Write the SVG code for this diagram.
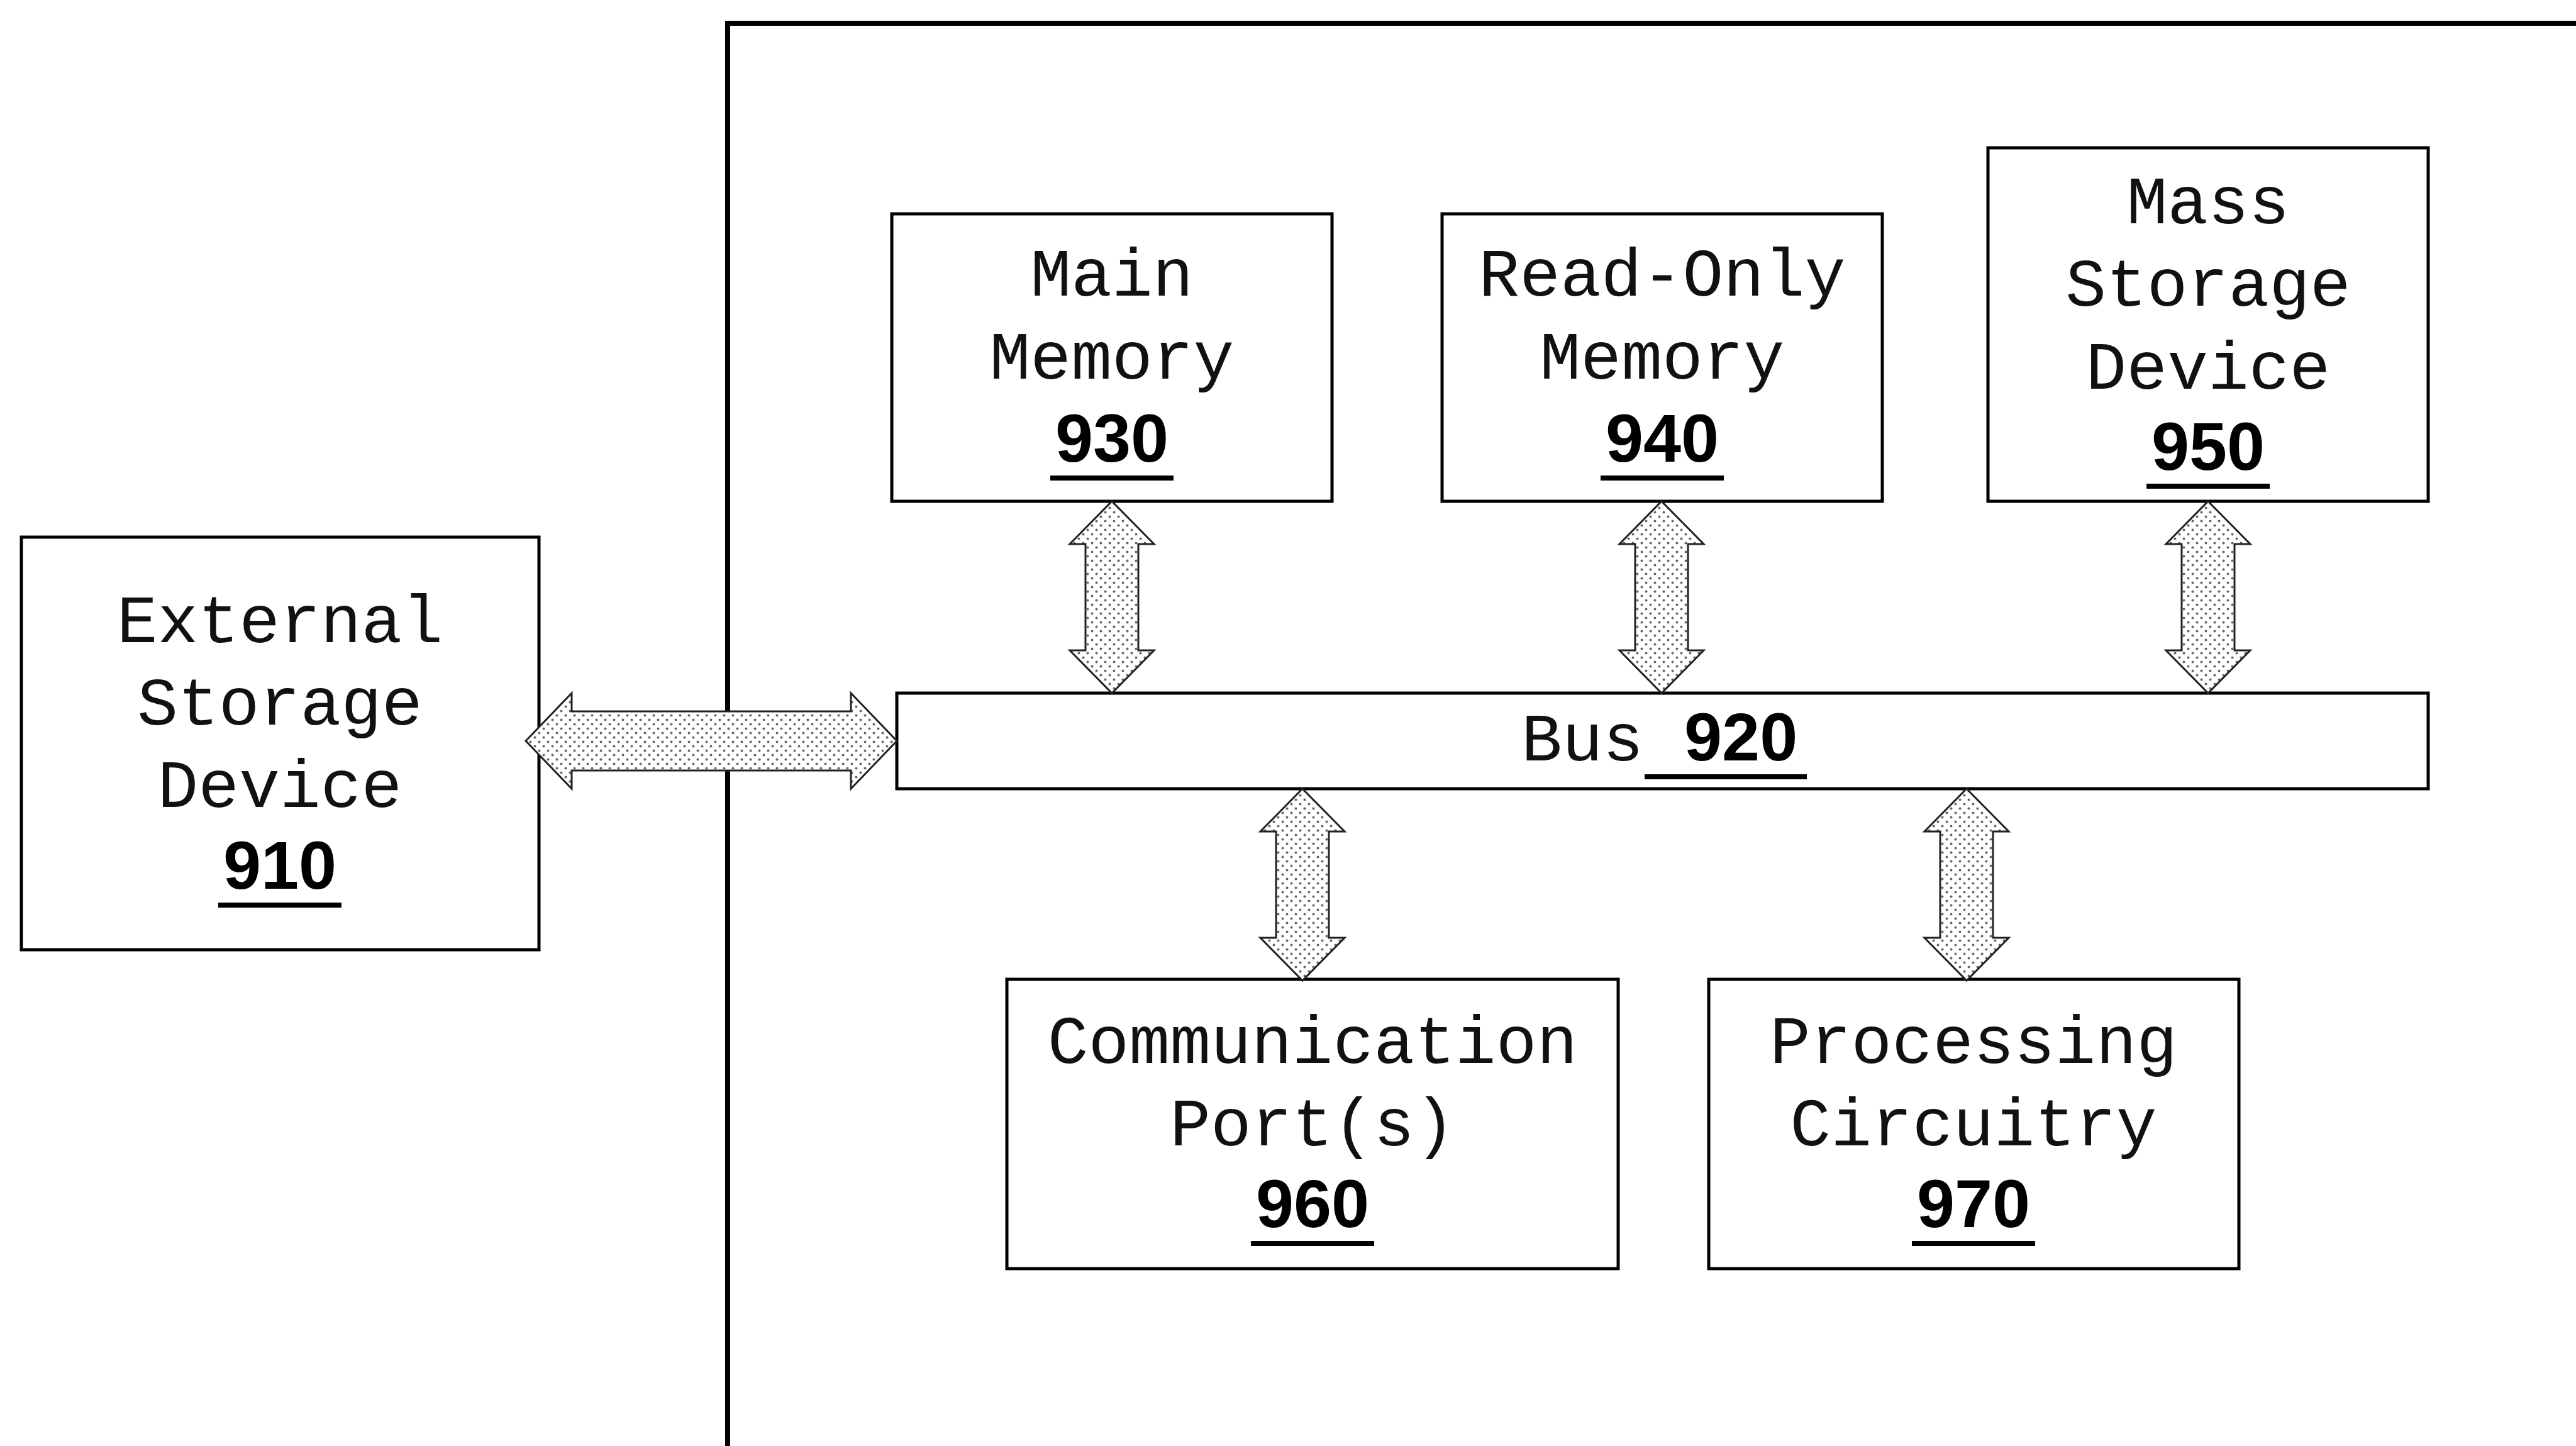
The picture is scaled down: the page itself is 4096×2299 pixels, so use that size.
<svg xmlns="http://www.w3.org/2000/svg" xmlns:xlink="http://www.w3.org/1999/xlink" width="4096" height="2299" viewBox="0 0 4096 2299">
<style>
.box{fill:#fff;stroke:#000;stroke-width:5}
.frame{fill:none;stroke:#000;stroke-width:8}
.lbl{font-family:"Liberation Mono","Courier New",monospace;font-size:108px;fill:#111;text-anchor:middle}
.num{font-family:"Liberation Sans",Arial,sans-serif;font-weight:bold;font-size:108px;fill:#000;text-anchor:middle}
.ul{stroke:#000;stroke-width:8}
.arr{fill:url(#dots);stroke:#222;stroke-width:3;stroke-linejoin:miter}
</style>
<defs>
<pattern id="dots" width="14" height="14" patternUnits="userSpaceOnUse">
<rect width="14" height="14" fill="#fff"/>
<circle cx="3.5" cy="3.5" r="2" fill="#666"/>
<circle cx="10.5" cy="10.5" r="2" fill="#666"/>
</pattern>
<path id="varrow" d="M0,0 L67,68 L42,68 L42,237 L67,237 L0,305 L-67,237 L-42,237 L-42,68 L-67,68 Z"/>
</defs>
<rect width="4096" height="2299" fill="#fff"/>
<path class="frame" d="M1157,2299 V37 H4096"/>

<g id="n910">
<rect class="box" x="34" y="854" width="823" height="656"/>
<text class="lbl" x="445" y="1021">External</text>
<text class="lbl" x="445" y="1152">Storage</text>
<text class="lbl" x="445" y="1283">Device</text>
<text class="num" x="445" y="1413">910</text>
<line class="ul" x1="347" y1="1439" x2="543" y2="1439"/>
</g>

<g id="n930">
<rect class="box" x="1418" y="340" width="700" height="457"/>
<text class="lbl" x="1768" y="470">Main</text>
<text class="lbl" x="1768" y="602">Memory</text>
<text class="num" x="1768" y="734">930</text>
<line class="ul" x1="1670" y1="760" x2="1866" y2="760"/>
</g>

<g id="n940">
<rect class="box" x="2293" y="340" width="700" height="457"/>
<text class="lbl" x="2643" y="470">Read-Only</text>
<text class="lbl" x="2643" y="602">Memory</text>
<text class="num" x="2643" y="734">940</text>
<line class="ul" x1="2545" y1="760" x2="2741" y2="760"/>
</g>

<g id="n950">
<rect class="box" x="3161" y="235" width="700" height="562"/>
<text class="lbl" x="3511" y="355">Mass</text>
<text class="lbl" x="3511" y="486">Storage</text>
<text class="lbl" x="3511" y="618">Device</text>
<text class="num" x="3511" y="747">950</text>
<line class="ul" x1="3413" y1="773" x2="3609" y2="773"/>
</g>

<g id="n920">
<rect class="box" x="1426" y="1102" width="2435" height="152"/>
<text class="lbl" x="2419" y="1209" style="text-anchor:start">Bus</text>
<text class="num" x="2678" y="1209" style="text-anchor:start">920</text>
<line class="ul" x1="2615" y1="1235" x2="2873" y2="1235"/>
</g>

<g id="n960">
<rect class="box" x="1601" y="1557" width="972" height="460"/>
<text class="lbl" x="2087" y="1690">Communication</text>
<text class="lbl" x="2087" y="1821">Port(s)</text>
<text class="num" x="2087" y="1951">960</text>
<line class="ul" x1="1989" y1="1977" x2="2185" y2="1977"/>
</g>

<g id="n970">
<rect class="box" x="2717" y="1557" width="843" height="460"/>
<text class="lbl" x="3138" y="1690">Processing</text>
<text class="lbl" x="3138" y="1821">Circuitry</text>
<text class="num" x="3138" y="1951">970</text>
<line class="ul" x1="3040" y1="1977" x2="3236" y2="1977"/>
</g>

<g id="connectors">
<path class="arr" d="M836,1178 L909,1102 L909,1131 L1353,1131 L1353,1102 L1426,1178 L1353,1254 L1353,1225 L909,1225 L909,1254 Z"/>
<use class="arr" xlink:href="#varrow" x="1768" y="797"/>
<use class="arr" xlink:href="#varrow" x="2642" y="797"/>
<use class="arr" xlink:href="#varrow" x="3511" y="797"/>
<use class="arr" xlink:href="#varrow" x="2071" y="1254"/>
<use class="arr" xlink:href="#varrow" x="3127" y="1254"/>
</g>
</svg>
